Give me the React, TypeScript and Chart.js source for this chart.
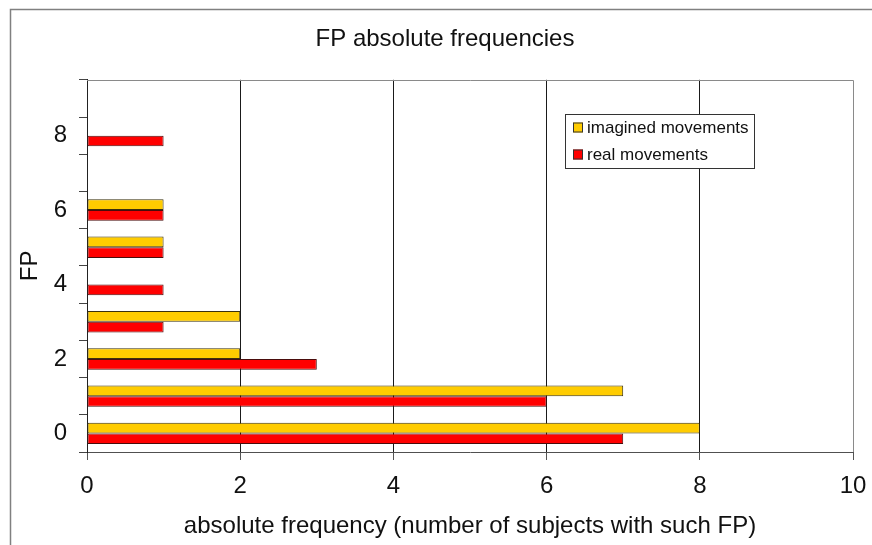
import React, { useEffect, useRef } from 'react';
import { Chart, registerables } from 'chart.js';

Chart.register(...registerables);

// ---- data ----
const categories = ['0', '1', '2', '3', '4', '5', '6', '7', '8', '9'];
const imaginedMovements = [8, 7, 2, 2, 0, 1, 1, 0, 0, 0];
const realMovements = [7, 6, 3, 1, 1, 1, 1, 0, 1, 0];
const xTickValues = [0, 2, 4, 6, 8, 10];
const seriesLabels = ['imagined movements', 'real movements'];
const chartTitle = 'FP absolute frequencies';
const xAxisTitle = 'absolute frequency (number of subjects with such FP)';
const yAxisTitle = 'FP';

const FONT = '"Liberation Sans", Arial, Helvetica, sans-serif';
const TEXT = '#111111';

const decorPlugin = {
  id: 'decor',
  beforeDraw(chart: any) {
    const ctx = chart.ctx;
    ctx.save();
    ctx.fillStyle = '#ffffff';
    ctx.fillRect(0, 0, chart.width, chart.height);
    ctx.strokeStyle = '#808080';
    ctx.lineWidth = 1.5;
    ctx.beginPath();
    ctx.moveTo(10.5, chart.height);
    ctx.lineTo(10.5, 9.5);
    ctx.lineTo(chart.width, 9.5);
    ctx.stroke();
    ctx.restore();
  },
  afterDraw(chart: any) {
    const ctx = chart.ctx;
    const { left, top, right, bottom } = chart.chartArea;
    ctx.save();
    // top and right border of plot area
    ctx.strokeStyle = '#8a8a8a';
    ctx.lineWidth = 1;
    ctx.beginPath();
    ctx.moveTo(Math.round(left), Math.round(top) + 0.5);
    ctx.lineTo(Math.round(right) + 0.5, Math.round(top) + 0.5);
    ctx.lineTo(Math.round(right) + 0.5, Math.round(bottom));
    ctx.stroke();

    // legend box
    const bx = 565.5, by = 114.5, bw = 189, bh = 54;
    ctx.fillStyle = '#ffffff';
    ctx.fillRect(bx, by, bw, bh);
    ctx.strokeStyle = '#333333';
    ctx.strokeRect(bx, by, bw, bh);
    ctx.font = `17px ${FONT}`;
    ctx.textBaseline = 'middle';
    ctx.textAlign = 'left';
    const rows = [127.5, 154.5];
    chart.data.datasets.forEach((ds: any, i: number) => {
      const cy = rows[i];
      ctx.fillStyle = ds.backgroundColor;
      ctx.fillRect(573, cy - 5, 10, 10);
      ctx.strokeStyle = '#333333';
      ctx.strokeRect(573.5, cy - 4.5, 9, 9);
      ctx.fillStyle = TEXT;
      ctx.fillText(ds.label, 587, cy + 1);
    });
    ctx.restore();
  },
};

export default function App() {
  const canvasRef = useRef<HTMLCanvasElement | null>(null);

  useEffect(() => {
    if (!canvasRef.current) return;
    const chart = new Chart(canvasRef.current, {
      type: 'bar',
      data: {
        labels: categories,
        datasets: [
          {
            label: seriesLabels[0],
            data: imaginedMovements,
            backgroundColor: '#ffcc00',
            borderColor: '#3a300c',
            borderWidth: 1,
            borderSkipped: false,
            categoryPercentage: 0.575,
            barPercentage: 1,
          },
          {
            label: seriesLabels[1],
            data: realMovements,
            backgroundColor: '#ff0000',
            borderColor: '#4a0c0c',
            borderWidth: 1,
            borderSkipped: false,
            categoryPercentage: 0.575,
            barPercentage: 1,
          },
        ],
      },
      options: {
        indexAxis: 'y',
        animation: false,
        responsive: false,
        devicePixelRatio: 1,
        layout: { padding: { left: 37, right: 19, top: 0, bottom: 0 } },
        plugins: {
          legend: { display: false },
          tooltip: { enabled: false },
          title: {
            display: true,
            text: chartTitle,
            color: TEXT,
            font: { family: FONT, size: 24, weight: 'normal' },
            padding: { top: 25, bottom: 26 },
          },
        },
        scales: {
          x: {
            type: 'linear',
            min: 0,
            max: 10,
            afterBuildTicks: (scale: any) => {
              scale.ticks = xTickValues.map((v) => ({ value: v }));
            },
            afterFit: (scale: any) => {
              scale.height = 93;
              scale.paddingLeft = 0;
              scale.paddingRight = 0;
            },
            ticks: {
              color: TEXT,
              font: { family: FONT, size: 24 },
              padding: 12,
            },
            grid: {
              color: (ctx: any) =>
                ctx.tick && (ctx.tick.value === 0 || ctx.tick.value === 10)
                  ? 'rgba(0,0,0,0)'
                  : '#1a1a1a',
              tickColor: '#555555',
              tickLength: 8,
              lineWidth: 1,
            },
            border: { display: true, color: '#505050', width: 1 },
            title: {
              display: true,
              text: xAxisTitle,
              color: TEXT,
              font: { family: FONT, size: 24 },
              padding: { top: 0, bottom: 4 },
            },
          },
          y: {
            type: 'category',
            reverse: true,
            offset: true,
            afterFit: (scale: any) => {
              scale.width = 50;
              scale.paddingTop = 0;
              scale.paddingBottom = 0;
            },
            ticks: {
              autoSkip: false,
              color: TEXT,
              font: { family: FONT, size: 24 },
              padding: 12,
              callback: (value: any) => {
                const i = Number(value);
                return i % 2 === 0 ? categories[i] : '';
              },
            },
            grid: {
              display: true,
              drawOnChartArea: false,
              drawTicks: true,
              tickLength: 8,
              tickColor: '#444444',
              offset: true,
            },
            border: { display: true, color: '#222222', width: 1 },
            title: {
              display: true,
              text: yAxisTitle,
              color: TEXT,
              font: { family: FONT, size: 24 },
              padding: { top: -21.5, bottom: 0 },
            },
          },
        },
      },
      plugins: [decorPlugin],
    } as any);
    return () => chart.destroy();
  }, []);

  return (
    <div style={{ position: 'absolute', left: 0, top: 0, width: 872, height: 545 }}>
      <canvas ref={canvasRef} width={872} height={545} style={{ display: 'block' }} />
    </div>
  );
}
